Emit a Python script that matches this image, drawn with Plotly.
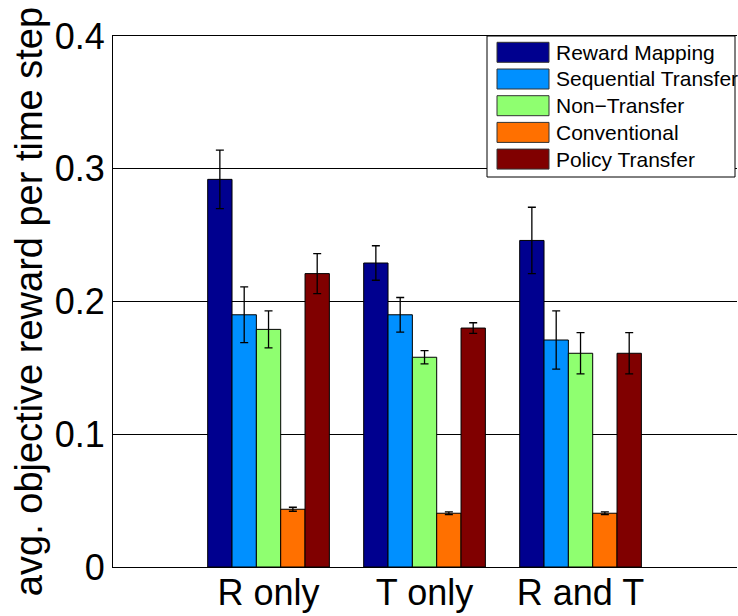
import plotly.graph_objects as go

categories = ["R only", "T only", "R and T"]
series_names = ["Reward Mapping", "Sequential Transfer", "Non\u2212Transfer", "Conventional", "Policy Transfer"]
series_colors = ["#00008F", "#0090FF", "#8FFF70", "#FF7000", "#800000"]

reward_mapping = [0.292, 0.229, 0.246]
sequential_transfer = [0.190, 0.190, 0.171]
non_transfer = [0.179, 0.158, 0.161]
conventional = [0.0435, 0.0405, 0.0405]
policy_transfer = [0.221, 0.180, 0.161]

reward_mapping_err = [0.022, 0.013, 0.025]
sequential_transfer_err = [0.021, 0.013, 0.022]
non_transfer_err = [0.014, 0.005, 0.0155]
conventional_err = [0.0015, 0.001, 0.001]
policy_transfer_err = [0.015, 0.004, 0.0155]

y_ticks = [0, 0.1, 0.2, 0.3, 0.4]
y_tick_labels = ["0", "0.1", "0.2", "0.3", "0.4"]

values = [reward_mapping, sequential_transfer, non_transfer, conventional, policy_transfer]
errors = [reward_mapping_err, sequential_transfer_err, non_transfer_err, conventional_err, policy_transfer_err]

FONT = "Liberation Sans, Arial, Helvetica, sans-serif"
PW, PH = 624.0, 531.0

fig = go.Figure()
for name, color, vals, errs in zip(series_names, series_colors, values, errors):
    fig.add_trace(go.Bar(
        x=categories, y=vals, name=name,
        marker=dict(color=color, line=dict(color="black", width=1)),
        error_y=dict(type="data", array=errs, visible=True, color="black", thickness=1.3, width=4),
        showlegend=False,
    ))

# custom legend (MATLAB-style wide swatches)
fig.add_shape(type="rect", xref="paper", yref="paper",
              x0=(487 - 113) / PW, x1=(735 - 113) / PW, y0=(567 - 177) / PH, y1=1.0,
              line=dict(color="black", width=1), fillcolor="white", layer="above")
row_h = 26.7 / PH
first_center = 1.0 - (52.3 - 36) / PH
for i, (name, color) in enumerate(zip(series_names, series_colors)):
    yc = first_center - i * row_h
    fig.add_shape(type="rect", xref="paper", yref="paper",
                  x0=(497 - 113) / PW, x1=(549 - 113) / PW,
                  y0=yc - 10 / PH, y1=yc + 10 / PH,
                  fillcolor=color, line=dict(color="#333333", width=1), layer="above")
    fig.add_annotation(xref="paper", yref="paper", x=(554 - 113) / PW, y=yc,
                       text=name, showarrow=False, xanchor="left", yanchor="middle",
                       font=dict(family=FONT, size=21, color="black"))

fig.update_layout(
    width=738, height=616,
    margin=dict(l=113, r=1, t=36, b=49, autoexpand=False),
    paper_bgcolor="white", plot_bgcolor="white",
    barmode="group", bargap=0.22, bargroupgap=0,
    font=dict(family=FONT, color="black"),
    showlegend=False,
)
fig.update_xaxes(
    range=[-0.997, 3.003], showline=True, linecolor="black", linewidth=1, mirror=True,
    showgrid=False, ticks="", automargin=False, ticklabelstandoff=-6,
    tickfont=dict(size=36, family=FONT, color="black"),
)
fig.update_yaxes(
    range=[0, 0.4], tickvals=y_ticks, ticktext=y_tick_labels,
    showline=True, linecolor="black", linewidth=1, automargin=False,
    showgrid=True, gridcolor="black", gridwidth=1, zeroline=False,
    ticks="", tickfont=dict(size=36, family=FONT, color="black"),
    title=dict(text="avg. objective reward per time step", font=dict(size=38, family=FONT, color="black"), standoff=0),
)

fig.write_html("out.html", config={"displayModeBar": False},
               post_script="document.body.style.margin='0';document.body.style.overflow='hidden';")
